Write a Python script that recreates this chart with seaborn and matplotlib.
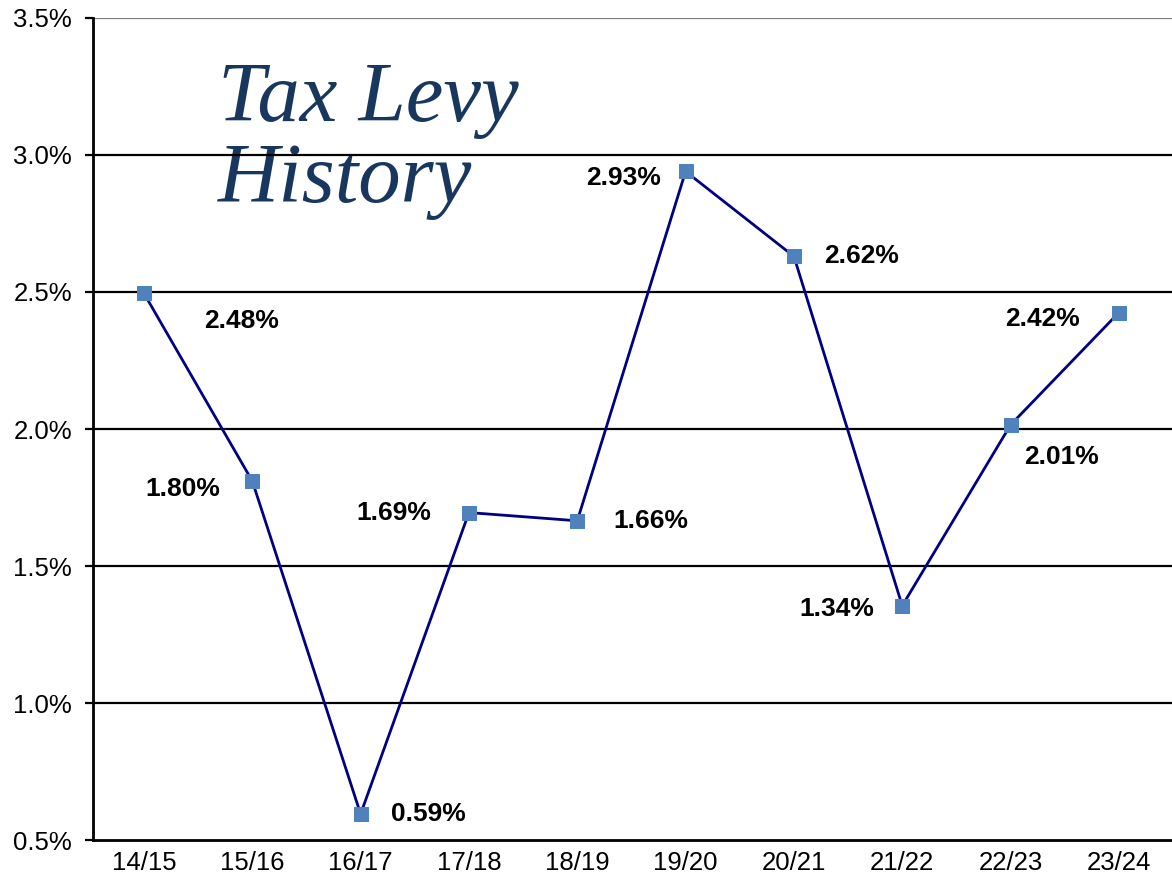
import matplotlib
matplotlib.use("Agg")
import matplotlib.pyplot as plt
import matplotlib.ticker as mticker
import pandas as pd
import seaborn as sns

years = ["14/15", "15/16", "16/17", "17/18", "18/19", "19/20", "20/21", "21/22", "22/23", "23/24"]
# marker heights (the printed labels are slightly lower)
levy = [2.495, 1.81, 0.595, 1.695, 1.665, 2.94, 2.63, 1.355, 2.015, 2.425]
label_text = ["2.48%", "1.80%", "0.59%", "1.69%", "1.66%", "2.93%", "2.62%", "1.34%", "2.01%", "2.42%"]
# label offsets in points relative to each marker
label_dx = [70, -50, 49, -54, 53, -45, 49, -47, 37, -55]
label_dy = [-20, -6, 0, 0, 0, -5, 0, -2, -23, -5]

sns.set_style("white")
plt.rcParams["font.family"] = ["Liberation Sans", "DejaVu Sans"]

df = pd.DataFrame({"year": years, "levy": levy})

fig = plt.figure(figsize=(11.72, 8.86), dpi=100)
ax = fig.add_axes([0.0794, 0.0519, 0.9215, 0.9278])

for y in [1.0, 1.5, 2.0, 2.5, 3.0]:
    ax.axhline(y, color="black", lw=1.6, zorder=1)
ax.axhline(3.5, color="#808080", lw=1.6, zorder=1)

sns.lineplot(data=df, x="year", y="levy", ax=ax, color="#000080", lw=2,
             marker="s", markersize=9.5, markerfacecolor="#4F81BD",
             markeredgecolor="#4F81BD", zorder=3)

for i, (v, t) in enumerate(zip(levy, label_text)):
    ax.annotate(t, (i, v), xytext=(label_dx[i], label_dy[i]), textcoords="offset points",
                ha="center", va="center", fontsize=19, fontweight="bold", color="black")

ax.set_xlim(-0.47, 9.5)
ax.set_ylim(0.5, 3.5)
ax.yaxis.set_major_locator(mticker.MultipleLocator(0.5))
ax.yaxis.set_major_formatter(mticker.FuncFormatter(lambda v, p: f"{v:.1f}%"))
ax.set_xticks(range(len(years)))
ax.set_xticklabels(years)
ax.set_xticks([i + 0.53 for i in range(len(years) - 1)], minor=True)
ax.tick_params(axis="x", which="major", length=0, labelsize=18.5, pad=8, labelcolor="black")
ax.tick_params(axis="x", which="minor", length=6, width=1.6, color="black", direction="out")
ax.tick_params(axis="y", length=6, width=1.6, color="black", labelsize=18.5, pad=9,
               left=True, labelcolor="black")
ax.set_xlabel("")
ax.set_ylabel("")

for s in ["top", "right"]:
    ax.spines[s].set_visible(False)
ax.spines["left"].set_linewidth(2)
ax.spines["left"].set_color("black")
ax.spines["bottom"].set_linewidth(2)
ax.spines["bottom"].set_color("black")

ax.text(0.116, 0.947, "Tax Levy\nHistory", transform=ax.transAxes, ha="left", va="top",
        fontsize=61, style="italic", family="Liberation Serif", color="#17375E",
        linespacing=1.08, zorder=0)

fig.savefig("out.png", dpi=100)
